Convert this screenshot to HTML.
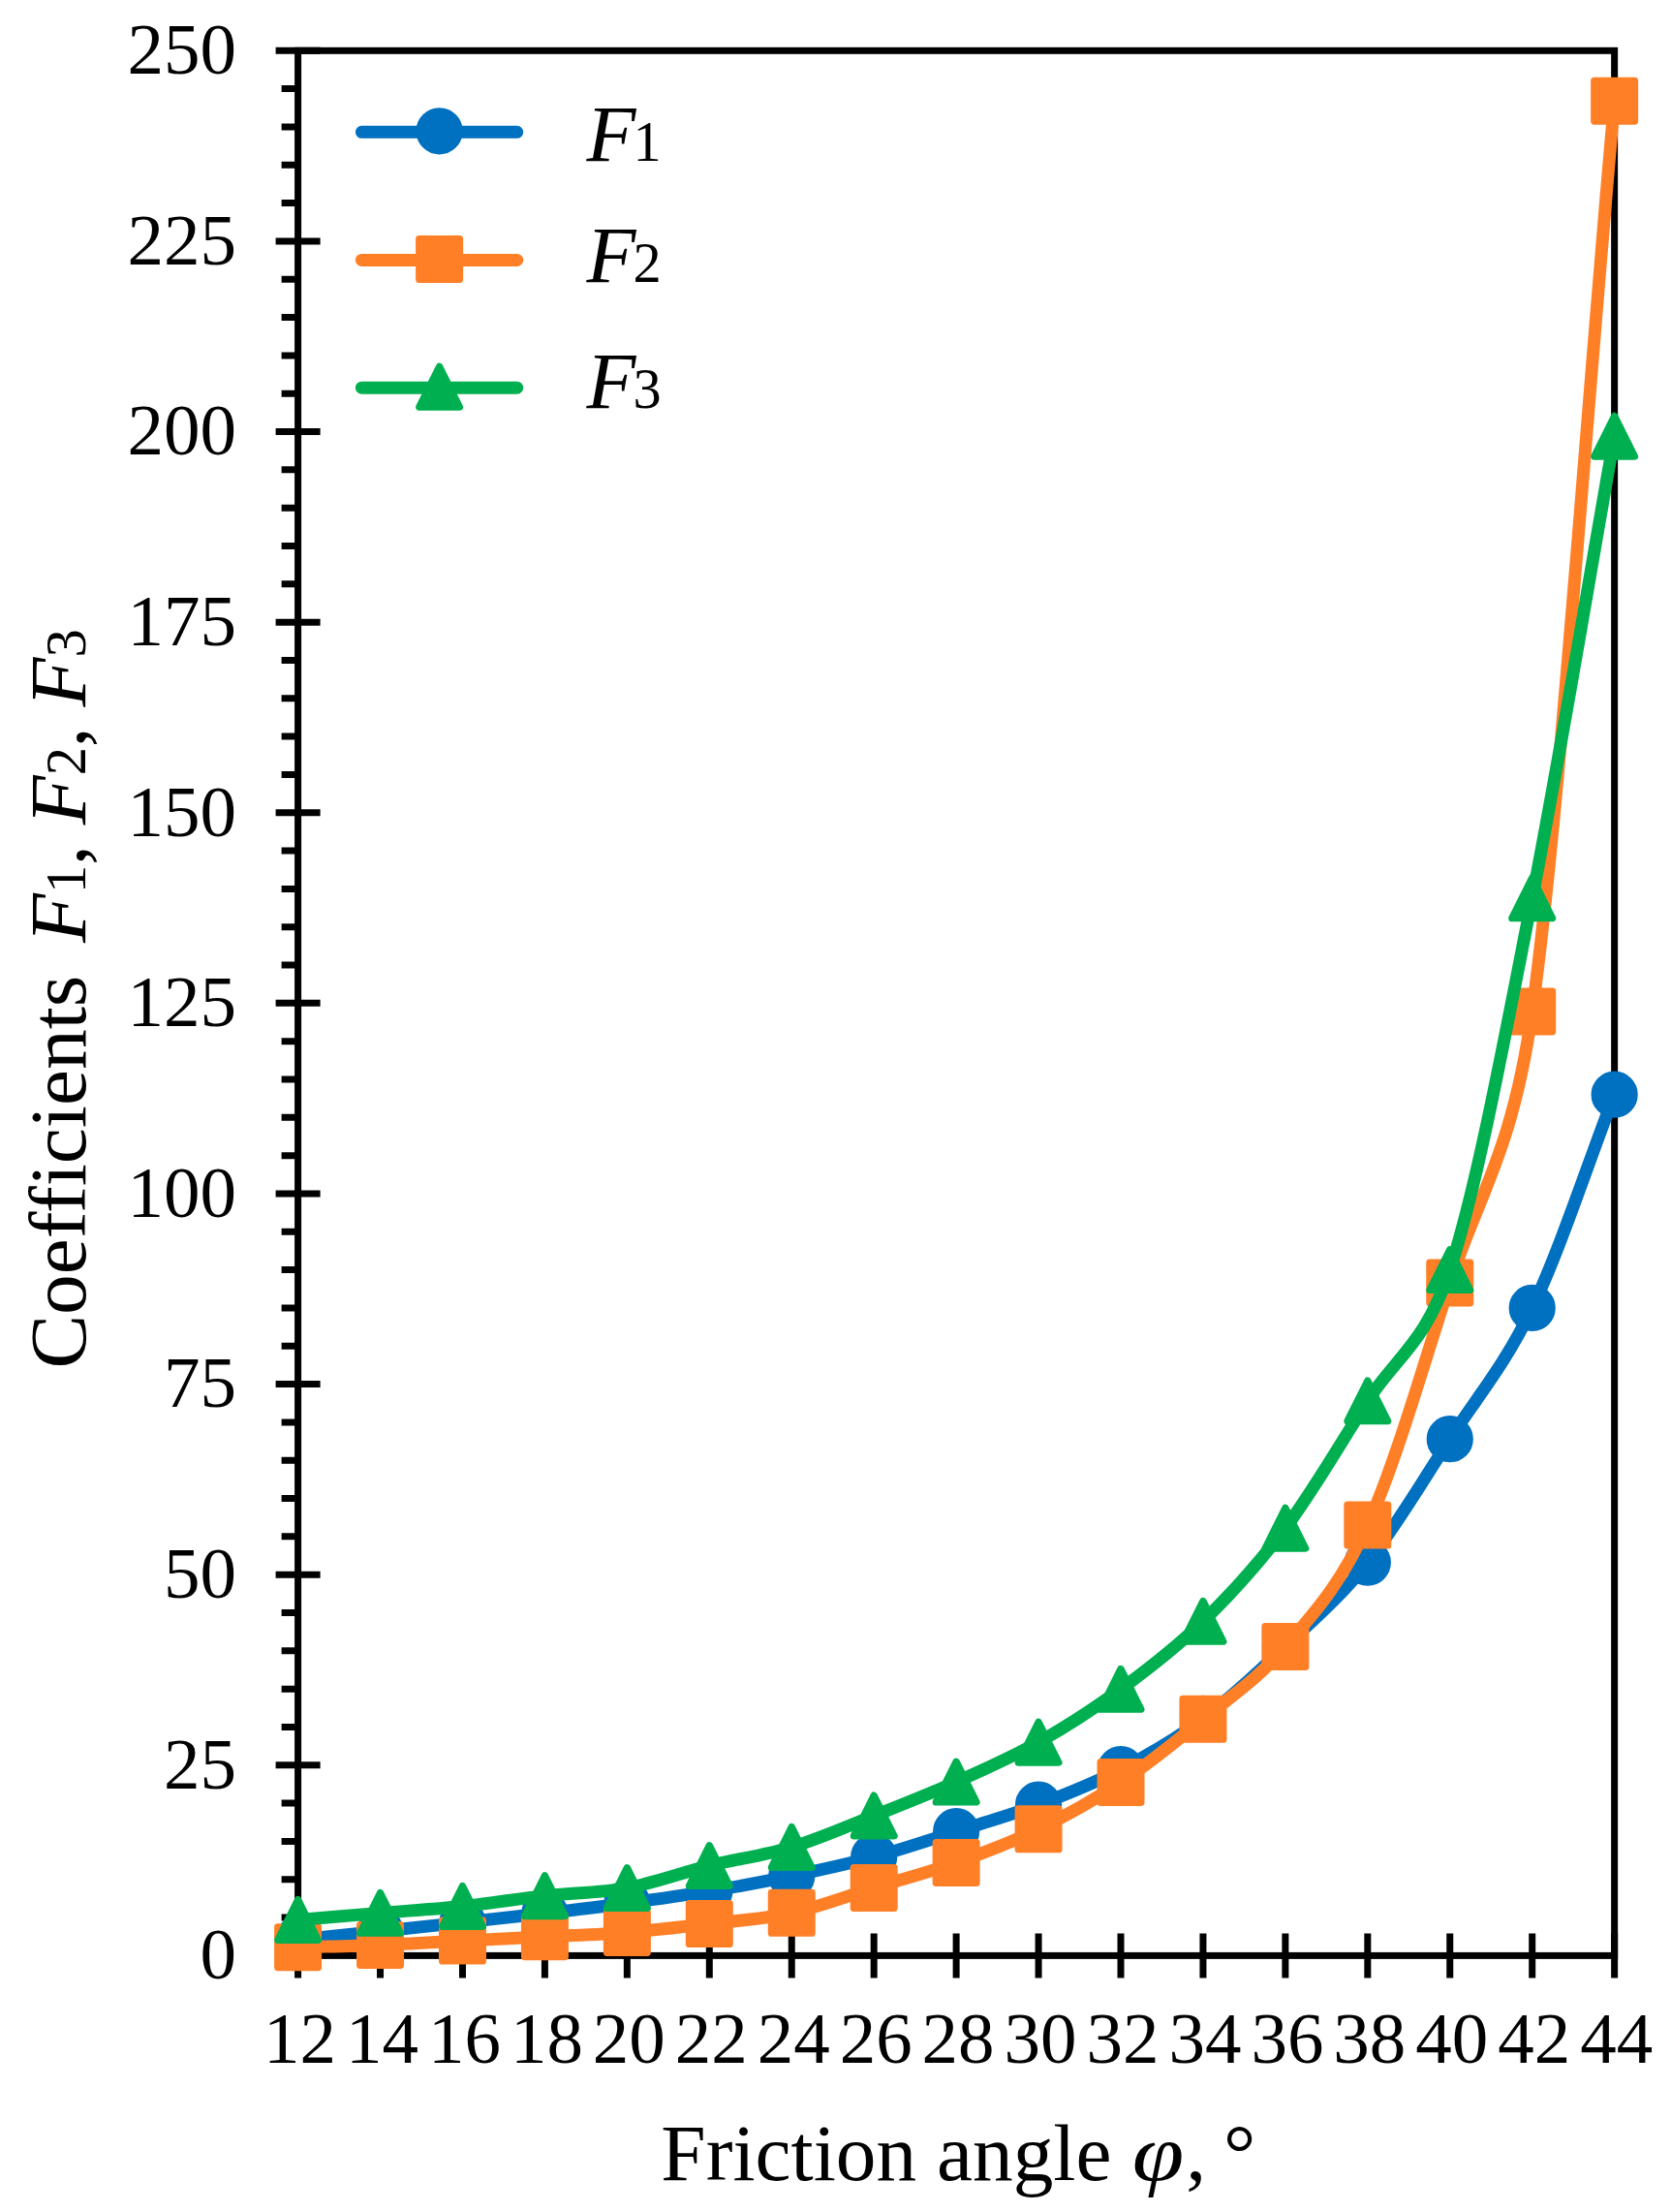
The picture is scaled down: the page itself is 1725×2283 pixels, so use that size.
<!DOCTYPE html>
<html lang="en"><head><meta charset="utf-8"><title>Coefficients F1, F2, F3 vs friction angle</title>
<style>html,body{margin:0;padding:0;background:#fff}svg{display:block}</style></head>
<body>
<svg width="1725" height="2283" viewBox="0 0 1725 2283">
<rect width="1725" height="2283" fill="#fff"/>
<g stroke="#000" stroke-width="7" fill="none" stroke-linecap="butt">
<rect x="307.60" y="52.30" width="1359.04" height="1966.10" stroke-linejoin="miter"/>
<path d="M284.60 2018.40H330.60M290.60 1979.08H307.60M290.60 1939.76H307.60M290.60 1900.43H307.60M290.60 1861.11H307.60M284.60 1821.79H330.60M290.60 1782.47H307.60M290.60 1743.15H307.60M290.60 1703.82H307.60M290.60 1664.50H307.60M284.60 1625.18H330.60M290.60 1585.86H307.60M290.60 1546.54H307.60M290.60 1507.21H307.60M290.60 1467.89H307.60M284.60 1428.57H330.60M290.60 1389.25H307.60M290.60 1349.93H307.60M290.60 1310.60H307.60M290.60 1271.28H307.60M284.60 1231.96H330.60M290.60 1192.64H307.60M290.60 1153.32H307.60M290.60 1113.99H307.60M290.60 1074.67H307.60M284.60 1035.35H330.60M290.60 996.03H307.60M290.60 956.71H307.60M290.60 917.38H307.60M290.60 878.06H307.60M284.60 838.74H330.60M290.60 799.42H307.60M290.60 760.10H307.60M290.60 720.77H307.60M290.60 681.45H307.60M284.60 642.13H330.60M290.60 602.81H307.60M290.60 563.49H307.60M290.60 524.16H307.60M290.60 484.84H307.60M284.60 445.52H330.60M290.60 406.20H307.60M290.60 366.88H307.60M290.60 327.55H307.60M290.60 288.23H307.60M284.60 248.91H330.60M290.60 209.59H307.60M290.60 170.27H307.60M290.60 130.94H307.60M290.60 91.62H307.60M284.60 52.30H330.60M307.60 1995.40V2041.40M392.54 1995.40V2041.40M477.48 1995.40V2041.40M562.42 1995.40V2041.40M647.36 1995.40V2041.40M732.30 1995.40V2041.40M817.24 1995.40V2041.40M902.18 1995.40V2041.40M987.12 1995.40V2041.40M1072.06 1995.40V2041.40M1157.00 1995.40V2041.40M1241.94 1995.40V2041.40M1326.88 1995.40V2041.40M1411.82 1995.40V2041.40M1496.76 1995.40V2041.40M1581.70 1995.40V2041.40M1666.64 1995.40V2041.40"/>
</g>
<g font-family="'Liberation Serif', 'Times New Roman', serif" font-size="75" fill="#000">
<text x="244" y="2042.20" text-anchor="end">0</text>
<text x="244" y="1845.59" text-anchor="end">25</text>
<text x="244" y="1648.98" text-anchor="end">50</text>
<text x="244" y="1452.37" text-anchor="end">75</text>
<text x="244" y="1255.76" text-anchor="end">100</text>
<text x="244" y="1059.15" text-anchor="end">125</text>
<text x="244" y="862.54" text-anchor="end">150</text>
<text x="244" y="665.93" text-anchor="end">175</text>
<text x="244" y="469.32" text-anchor="end">200</text>
<text x="244" y="272.71" text-anchor="end">225</text>
<text x="244" y="76.10" text-anchor="end">250</text>
<text x="309.60" y="2129.2" text-anchor="middle">12</text>
<text x="394.54" y="2129.2" text-anchor="middle">14</text>
<text x="479.48" y="2129.2" text-anchor="middle">16</text>
<text x="564.42" y="2129.2" text-anchor="middle">18</text>
<text x="649.36" y="2129.2" text-anchor="middle">20</text>
<text x="734.30" y="2129.2" text-anchor="middle">22</text>
<text x="819.24" y="2129.2" text-anchor="middle">24</text>
<text x="904.18" y="2129.2" text-anchor="middle">26</text>
<text x="989.12" y="2129.2" text-anchor="middle">28</text>
<text x="1074.06" y="2129.2" text-anchor="middle">30</text>
<text x="1159.00" y="2129.2" text-anchor="middle">32</text>
<text x="1243.94" y="2129.2" text-anchor="middle">34</text>
<text x="1328.88" y="2129.2" text-anchor="middle">36</text>
<text x="1413.82" y="2129.2" text-anchor="middle">38</text>
<text x="1498.76" y="2129.2" text-anchor="middle">40</text>
<text x="1583.70" y="2129.2" text-anchor="middle">42</text>
<text x="1668.64" y="2129.2" text-anchor="middle">44</text>
</g>
<g font-family="'Liberation Serif', 'Times New Roman', serif" font-size="83.33" fill="#000">
<text id="xt" x="682.3" y="2250">Friction angle </text>
<text id="xphi" transform="translate(1168.7 2250) scale(1.16 1)" font-style="italic">φ</text>
<text id="xt2" y="2250"><tspan x="1224.3">, </tspan><tspan x="1263">°</tspan></text>
<text id="yt" transform="translate(88 1412.5) rotate(-90)">Coefficients</text>
<text id="yt2" transform="translate(88 973) rotate(-90)"><tspan font-style="italic">F</tspan><tspan font-size="58.33">1</tspan>, <tspan font-style="italic">F</tspan><tspan font-size="58.33">2</tspan>, <tspan font-style="italic">F</tspan><tspan font-size="58.33">3</tspan></text>
<text x="605.5" y="166.10"><tspan font-style="italic">F</tspan><tspan font-size="58.33" dx="-3">1</tspan></text>
<text x="605.5" y="291.10"><tspan font-style="italic">F</tspan><tspan font-size="58.33" dx="-3">2</tspan></text>
<text x="605.5" y="421.00"><tspan font-style="italic">F</tspan><tspan font-size="58.33" dx="-3">3</tspan></text>
</g>
<path d="M307.60 2001.88 C335.91 1999.00 364.23 1996.18 392.54 1993.23 C420.85 1990.28 449.17 1987.27 477.48 1984.19 C505.79 1981.11 534.11 1978.07 562.42 1974.75 C590.73 1971.44 619.05 1968.09 647.36 1964.29 C675.67 1960.49 703.99 1956.63 732.30 1951.95 C760.61 1947.27 788.93 1942.12 817.24 1936.22 C845.55 1930.32 873.87 1924.22 902.18 1916.56 C930.49 1908.89 958.81 1899.19 987.12 1890.21 C1015.43 1881.23 1043.75 1873.37 1072.06 1862.68 C1100.37 1852.00 1128.69 1840.90 1157.00 1826.12 C1185.31 1811.33 1213.63 1795.14 1241.94 1773.97 C1270.25 1752.81 1298.57 1726.00 1326.88 1699.11 C1355.19 1672.21 1383.51 1648.25 1411.82 1612.60 C1440.13 1576.95 1468.45 1528.97 1496.76 1485.19 C1525.07 1441.42 1553.39 1409.17 1581.70 1349.93 C1610.01 1290.68 1638.33 1203.12 1666.64 1129.72" fill="none" stroke="#0070C0" stroke-width="13" stroke-linecap="round" stroke-linejoin="round"/>
<circle cx="307.60" cy="2001.88" r="20.45" fill="#0070C0" stroke="#0070C0" stroke-width="7.30"/><circle cx="392.54" cy="1993.23" r="20.45" fill="#0070C0" stroke="#0070C0" stroke-width="7.30"/><circle cx="477.48" cy="1984.19" r="20.45" fill="#0070C0" stroke="#0070C0" stroke-width="7.30"/><circle cx="562.42" cy="1974.75" r="20.45" fill="#0070C0" stroke="#0070C0" stroke-width="7.30"/><circle cx="647.36" cy="1964.29" r="20.45" fill="#0070C0" stroke="#0070C0" stroke-width="7.30"/><circle cx="732.30" cy="1951.95" r="20.45" fill="#0070C0" stroke="#0070C0" stroke-width="7.30"/><circle cx="817.24" cy="1936.22" r="20.45" fill="#0070C0" stroke="#0070C0" stroke-width="7.30"/><circle cx="902.18" cy="1916.56" r="20.45" fill="#0070C0" stroke="#0070C0" stroke-width="7.30"/><circle cx="987.12" cy="1890.21" r="20.45" fill="#0070C0" stroke="#0070C0" stroke-width="7.30"/><circle cx="1072.06" cy="1862.68" r="20.45" fill="#0070C0" stroke="#0070C0" stroke-width="7.30"/><circle cx="1157.00" cy="1826.12" r="20.45" fill="#0070C0" stroke="#0070C0" stroke-width="7.30"/><circle cx="1241.94" cy="1773.97" r="20.45" fill="#0070C0" stroke="#0070C0" stroke-width="7.30"/><circle cx="1326.88" cy="1699.11" r="20.45" fill="#0070C0" stroke="#0070C0" stroke-width="7.30"/><circle cx="1411.82" cy="1612.60" r="20.45" fill="#0070C0" stroke="#0070C0" stroke-width="7.30"/><circle cx="1496.76" cy="1485.19" r="20.45" fill="#0070C0" stroke="#0070C0" stroke-width="7.30"/><circle cx="1581.70" cy="1349.93" r="20.45" fill="#0070C0" stroke="#0070C0" stroke-width="7.30"/><circle cx="1666.64" cy="1129.72" r="20.45" fill="#0070C0" stroke="#0070C0" stroke-width="7.30"/>
<path d="M307.60 2009.75 C335.91 2008.96 364.23 2008.50 392.54 2007.39 C420.85 2006.28 449.17 2004.51 477.48 2003.06 C505.79 2001.62 534.11 2000.18 562.42 1998.74 C590.73 1997.30 619.05 1996.62 647.36 1994.41 C675.67 1992.21 703.99 1988.87 732.30 1985.53 C760.61 1982.18 788.93 1980.55 817.24 1974.36 C845.55 1968.17 873.87 1957.06 902.18 1948.41 C930.49 1939.76 958.81 1932.55 987.12 1922.45 C1015.43 1912.36 1043.75 1901.68 1072.06 1887.85 C1100.37 1874.02 1128.69 1858.40 1157.00 1839.48 C1185.31 1820.57 1213.63 1797.70 1241.94 1774.37 C1270.25 1751.04 1298.57 1732.88 1326.88 1699.50 C1355.19 1666.11 1383.51 1636.65 1411.82 1574.06 C1440.13 1511.47 1468.45 1412.32 1496.76 1323.97 C1525.07 1235.63 1561.52 1188.89 1581.70 1044.00 C1610.01 840.71 1638.33 417.47 1666.64 104.21" fill="none" stroke="#FF7F27" stroke-width="13" stroke-linecap="round" stroke-linejoin="round"/>
<rect x="286.75" y="1988.90" width="41.70" height="41.70" fill="#FF7F27" stroke="#FF7F27" stroke-width="7.30" stroke-linejoin="round"/><rect x="371.69" y="1986.54" width="41.70" height="41.70" fill="#FF7F27" stroke="#FF7F27" stroke-width="7.30" stroke-linejoin="round"/><rect x="456.63" y="1982.21" width="41.70" height="41.70" fill="#FF7F27" stroke="#FF7F27" stroke-width="7.30" stroke-linejoin="round"/><rect x="541.57" y="1977.89" width="41.70" height="41.70" fill="#FF7F27" stroke="#FF7F27" stroke-width="7.30" stroke-linejoin="round"/><rect x="626.51" y="1973.56" width="41.70" height="41.70" fill="#FF7F27" stroke="#FF7F27" stroke-width="7.30" stroke-linejoin="round"/><rect x="711.45" y="1964.68" width="41.70" height="41.70" fill="#FF7F27" stroke="#FF7F27" stroke-width="7.30" stroke-linejoin="round"/><rect x="796.39" y="1953.51" width="41.70" height="41.70" fill="#FF7F27" stroke="#FF7F27" stroke-width="7.30" stroke-linejoin="round"/><rect x="881.33" y="1927.56" width="41.70" height="41.70" fill="#FF7F27" stroke="#FF7F27" stroke-width="7.30" stroke-linejoin="round"/><rect x="966.27" y="1901.60" width="41.70" height="41.70" fill="#FF7F27" stroke="#FF7F27" stroke-width="7.30" stroke-linejoin="round"/><rect x="1051.21" y="1867.00" width="41.70" height="41.70" fill="#FF7F27" stroke="#FF7F27" stroke-width="7.30" stroke-linejoin="round"/><rect x="1136.15" y="1818.63" width="41.70" height="41.70" fill="#FF7F27" stroke="#FF7F27" stroke-width="7.30" stroke-linejoin="round"/><rect x="1221.09" y="1753.52" width="41.70" height="41.70" fill="#FF7F27" stroke="#FF7F27" stroke-width="7.30" stroke-linejoin="round"/><rect x="1306.03" y="1678.65" width="41.70" height="41.70" fill="#FF7F27" stroke="#FF7F27" stroke-width="7.30" stroke-linejoin="round"/><rect x="1390.97" y="1553.21" width="41.70" height="41.70" fill="#FF7F27" stroke="#FF7F27" stroke-width="7.30" stroke-linejoin="round"/><rect x="1475.91" y="1303.12" width="41.70" height="41.70" fill="#FF7F27" stroke="#FF7F27" stroke-width="7.30" stroke-linejoin="round"/><rect x="1560.85" y="1023.15" width="41.70" height="41.70" fill="#FF7F27" stroke="#FF7F27" stroke-width="7.30" stroke-linejoin="round"/><rect x="1645.79" y="83.36" width="41.70" height="41.70" fill="#FF7F27" stroke="#FF7F27" stroke-width="7.30" stroke-linejoin="round"/>
<path d="M307.60 1981.44 C335.91 1979.08 364.23 1976.69 392.54 1974.36 C420.85 1972.03 449.17 1970.39 477.48 1967.44 C505.79 1964.49 534.11 1959.81 562.42 1956.66 C590.73 1953.52 619.05 1953.74 647.36 1948.56 C675.67 1943.39 703.99 1932.63 732.30 1925.60 C760.61 1918.57 788.93 1915.01 817.24 1906.41 C845.55 1897.81 873.87 1885.23 902.18 1874.01 C930.49 1862.79 958.81 1851.73 987.12 1839.09 C1015.43 1826.46 1043.75 1814.16 1072.06 1798.20 C1100.37 1782.23 1128.69 1764.12 1157.00 1743.30 C1185.31 1722.49 1213.63 1700.99 1241.94 1673.31 C1270.25 1645.63 1298.57 1615.11 1326.88 1577.21 C1355.19 1539.30 1383.51 1490.31 1411.82 1445.87 C1440.13 1401.44 1471.92 1386.50 1496.76 1310.60 C1525.07 1224.10 1553.39 1070.22 1581.70 926.82 C1610.01 783.43 1638.33 609.10 1666.64 450.24" fill="none" stroke="#00B050" stroke-width="13" stroke-linecap="round" stroke-linejoin="round"/>
<polygon points="307.60,1960.59 328.45,2002.29 286.75,2002.29" fill="#00B050" stroke="#00B050" stroke-width="7.30" stroke-linejoin="round"/><polygon points="392.54,1953.51 413.39,1995.21 371.69,1995.21" fill="#00B050" stroke="#00B050" stroke-width="7.30" stroke-linejoin="round"/><polygon points="477.48,1946.59 498.33,1988.29 456.63,1988.29" fill="#00B050" stroke="#00B050" stroke-width="7.30" stroke-linejoin="round"/><polygon points="562.42,1935.81 583.27,1977.51 541.57,1977.51" fill="#00B050" stroke="#00B050" stroke-width="7.30" stroke-linejoin="round"/><polygon points="647.36,1927.71 668.21,1969.41 626.51,1969.41" fill="#00B050" stroke="#00B050" stroke-width="7.30" stroke-linejoin="round"/><polygon points="732.30,1904.75 753.15,1946.45 711.45,1946.45" fill="#00B050" stroke="#00B050" stroke-width="7.30" stroke-linejoin="round"/><polygon points="817.24,1885.56 838.09,1927.26 796.39,1927.26" fill="#00B050" stroke="#00B050" stroke-width="7.30" stroke-linejoin="round"/><polygon points="902.18,1853.16 923.03,1894.86 881.33,1894.86" fill="#00B050" stroke="#00B050" stroke-width="7.30" stroke-linejoin="round"/><polygon points="987.12,1818.24 1007.97,1859.94 966.27,1859.94" fill="#00B050" stroke="#00B050" stroke-width="7.30" stroke-linejoin="round"/><polygon points="1072.06,1777.35 1092.91,1819.05 1051.21,1819.05" fill="#00B050" stroke="#00B050" stroke-width="7.30" stroke-linejoin="round"/><polygon points="1157.00,1722.45 1177.85,1764.15 1136.15,1764.15" fill="#00B050" stroke="#00B050" stroke-width="7.30" stroke-linejoin="round"/><polygon points="1241.94,1652.46 1262.79,1694.16 1221.09,1694.16" fill="#00B050" stroke="#00B050" stroke-width="7.30" stroke-linejoin="round"/><polygon points="1326.88,1556.36 1347.73,1598.06 1306.03,1598.06" fill="#00B050" stroke="#00B050" stroke-width="7.30" stroke-linejoin="round"/><polygon points="1411.82,1425.02 1432.67,1466.72 1390.97,1466.72" fill="#00B050" stroke="#00B050" stroke-width="7.30" stroke-linejoin="round"/><polygon points="1496.76,1289.75 1517.61,1331.45 1475.91,1331.45" fill="#00B050" stroke="#00B050" stroke-width="7.30" stroke-linejoin="round"/><polygon points="1581.70,905.97 1602.55,947.67 1560.85,947.67" fill="#00B050" stroke="#00B050" stroke-width="7.30" stroke-linejoin="round"/><polygon points="1666.64,429.39 1687.49,471.09 1645.79,471.09" fill="#00B050" stroke="#00B050" stroke-width="7.30" stroke-linejoin="round"/>
<path d="M373.4 136.30H533.7" stroke="#0070C0" stroke-width="13" stroke-linecap="round" fill="none"/>
<circle cx="453.60" cy="135.30" r="20.45" fill="#0070C0" stroke="#0070C0" stroke-width="7.30"/>
<path d="M373.4 268.40H533.7" stroke="#FF7F27" stroke-width="13" stroke-linecap="round" fill="none"/>
<rect x="432.75" y="246.55" width="41.70" height="41.70" fill="#FF7F27" stroke="#FF7F27" stroke-width="7.30" stroke-linejoin="round"/>
<path d="M373.4 400.20H533.7" stroke="#00B050" stroke-width="13" stroke-linecap="round" fill="none"/>
<polygon points="453.60,378.35 474.45,420.05 432.75,420.05" fill="#00B050" stroke="#00B050" stroke-width="7.30" stroke-linejoin="round"/>
</svg>
</body></html>
